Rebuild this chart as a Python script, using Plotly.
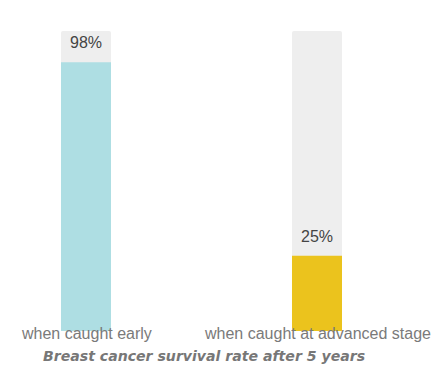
import plotly.graph_objects as go

# ---- data ----
categories = ["when caught early", "when caught at advanced stage"]
survival_labels = ["98%", "25%"]          # printed values
bar_heights = [89.6, 25.1]                 # drawn bar heights (share of the grey track)
track_max = [100, 100]                     # grey background track
bar_colors = ["#AEDEE3", "#EBC31D"]
title_text = "Breast cancer survival rate after 5 years"

fig = go.Figure()
fig.add_trace(go.Bar(
    x=categories, y=track_max, width=0.2165,
    marker=dict(color="#EEEEEE", line=dict(width=0)),
    hoverinfo="skip", showlegend=False,
))
fig.add_trace(go.Bar(
    x=categories, y=bar_heights, width=0.2165,
    marker=dict(color=bar_colors, line=dict(width=0)),
    showlegend=False,
))

annotations = []
for cat, h, lab in zip(categories, bar_heights, survival_labels):
    annotations.append(dict(
        x=cat, y=h, xref="x", yref="y", text=lab, showarrow=False,
        yanchor="bottom", yshift=9,
        font=dict(family="Liberation Sans, Arial, sans-serif", size=16, color="#444444"),
    ))
    annotations.append(dict(
        x=cat, y=0, xref="x", yref="y", text=cat, showarrow=False,
        yanchor="middle", yshift=-2.5,
        font=dict(family="Liberation Sans, Arial, sans-serif", size=16, color="#7a7a7a"),
    ))

W, H, T, B = 445, 390, 23, 67
plot_h = H - T - B
annotations.append(dict(
    x=195.5 / W, y=(H - B - 348) / plot_h, xref="paper", yref="paper",
    text="<b><i>" + title_text + "</i></b>",
    showarrow=False, xanchor="center", yanchor="middle",
    font=dict(family="DejaVu Sans, Verdana, sans-serif", size=14.1, color="#777777"),
))

fig.update_layout(
    width=W, height=H,
    margin=dict(l=0, r=0, t=T, b=B),
    paper_bgcolor="white", plot_bgcolor="white",
    barmode="overlay", barcornerradius=2,
    annotations=annotations,
    xaxis=dict(type="category", range=[-0.33766, 1.58875], showticklabels=False,
               showgrid=False, zeroline=False, showline=False, ticks=""),
    yaxis=dict(range=[0, 100], showticklabels=False, showgrid=False,
               zeroline=False, showline=False, ticks=""),
)

fig.write_html("out.html")
